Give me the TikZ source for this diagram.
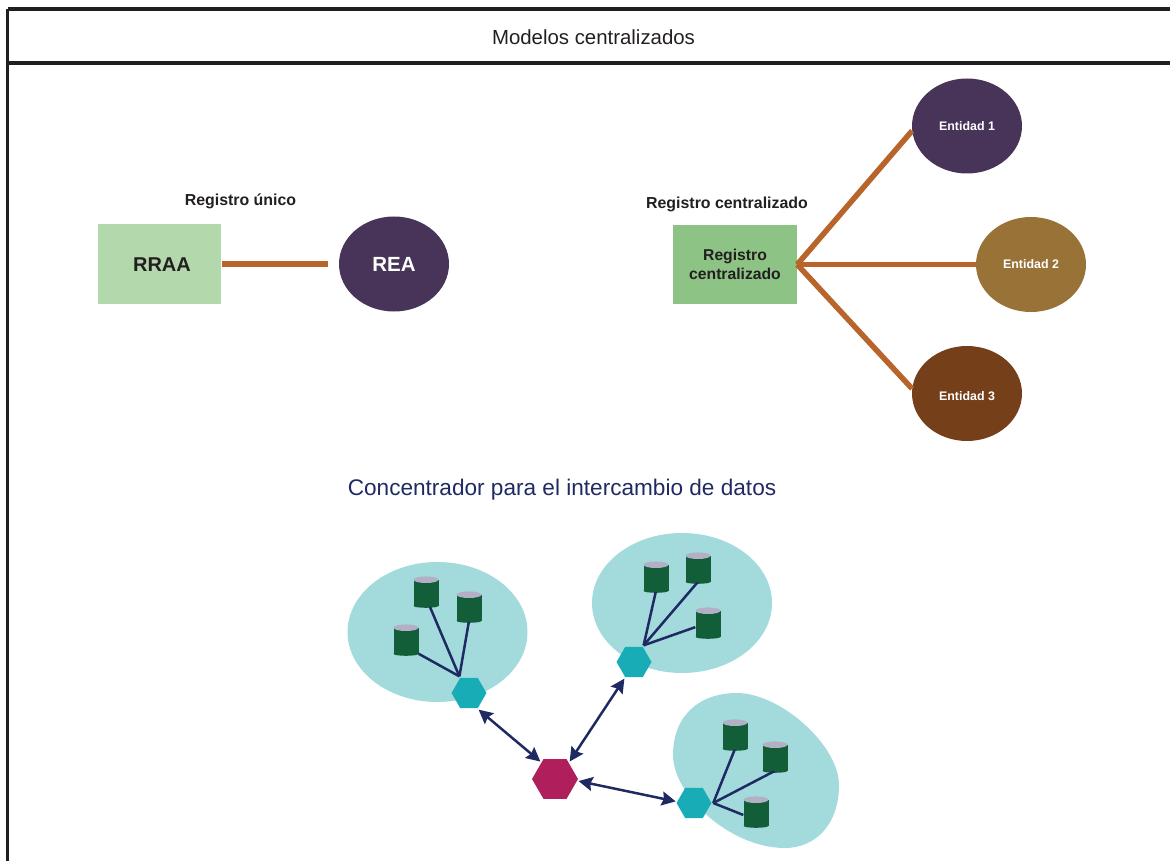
\documentclass[tikz,border=0pt]{standalone}
\usepackage{fontspec}
\setmainfont{Liberation Sans}
\usepackage{xcolor}
\usetikzlibrary{arrows.meta,shapes.geometric}

\definecolor{frameblack}{HTML}{231F20}
\definecolor{navyline}{HTML}{1F2A63}
\definecolor{brownline}{HTML}{B7652B}
\definecolor{lightgreen}{HTML}{B2D8AB}
\definecolor{midgreen}{HTML}{8DC384}
\definecolor{purpleent}{HTML}{483458}
\definecolor{ochreent}{HTML}{997238}
\definecolor{brownent}{HTML}{753F1A}
\definecolor{blobteal}{HTML}{A3DBDC}
\definecolor{hubteal}{HTML}{18ACB6}
\definecolor{hubred}{HTML}{AE1F5B}
\definecolor{dbgreen}{HTML}{115E38}
\definecolor{dbtop}{HTML}{B3B0C6}

\begin{document}
\begin{tikzpicture}[x=1pt,y=-1pt]
    \tikzset{box/.style = {shape=rectangle, minimum width=123pt, minimum height=79pt, inner sep=0pt, align=center}}
    \tikzset{entity/.style = {shape=ellipse, minimum width=110pt, minimum height=95pt, inner sep=0pt, text=white, font=\fontsize{12.4}{14}\selectfont\bfseries}}
    \tikzset{heading/.style = {font=\fontsize{15.9}{18}\selectfont\bfseries, text=frameblack}}
    \tikzset{blob/.style = {shape=ellipse, fill=blobteal, inner sep=0pt, minimum width=180pt, minimum height=140pt}}
    \tikzset{hub/.style = {shape=regular polygon, regular polygon sides=6, fill=hubteal, minimum size=35pt, inner sep=0pt, outer sep=1.5pt}}
    \tikzset{db/.style = {shape=rectangle, fill=dbgreen, minimum width=25pt, minimum height=25.7pt, inner sep=0pt}}
    \tikzset{bar/.style = {draw=brownline, line width=5.5pt}}
    \tikzset{spoke/.style = {draw=navyline, line width=2.5pt}}
    \tikzset{link/.style = {draw=navyline, line width=2.5pt, {Stealth[length=14pt,width=14pt,inset=2pt]}-{Stealth[length=14pt,width=14pt,inset=2pt]}}}

    \useasboundingbox (0,0) rectangle (1170,861);

    % frame
    \coordinate (tl) at (7.5,9.5);
    \coordinate (tr) at (1170,9.5);
    \coordinate (ml) at (7.5,63);
    \coordinate (mr) at (1170,63);
    \coordinate (bl) at (7.5,861);
    \draw [frameblack, line width=4pt] (tl) -- (tr);
    \draw [frameblack, line width=4pt] (ml) -- (mr);
    \draw [frameblack, line width=3pt] (tl) -- (bl);
    \node[font=\fontsize{20.4}{24}\selectfont, text=frameblack] (title) at (593.5,37) {Modelos centralizados};

    % top left
    \node[heading] (unico) at (240.5,201) {Registro único};
    \node[box, fill=lightgreen, font=\fontsize{20}{23}\selectfont\bfseries, text=frameblack] (rraa) at (159.5,264) {\hspace{5pt}\raisebox{-1pt}[\height][0pt]{RRAA}};
    \node[entity, fill=purpleent, font=\fontsize{20.5}{23}\selectfont\bfseries] (rea) at (394,264) {REA};
    \draw [bar, shorten <=1pt, shorten >=11pt] (rraa) -- (rea);

    % top right
    \node[heading] (centr) at (727,204) {Registro centralizado};
    \node[box, fill=midgreen, minimum width=124pt, font=\fontsize{15.7}{19}\selectfont\bfseries, text=frameblack] (reg) at (735,264.5) {Registro\\centralizado};
    \node[entity, fill=purpleent] (ent1) at (967,126) {Entidad 1};
    \node[entity, fill=ochreent] (ent2) at (1031,264.5) {Entidad 2};
    \node[entity, fill=brownent] (ent3) at (967,393.5) {\raisebox{-2.5pt}[\height][0pt]{Entidad 3}};
    \draw [bar] (reg.east) -- (ent1.185);
    \draw [bar] (reg.east) -- (ent2.west);
    \draw [bar] (reg.east) -- (ent3.175);

    % hub network
    \node[font=\fontsize{22.6}{27}\selectfont, text=navyline] (conc) at (562,490) {Concentrador para el intercambio de datos};
    \node[blob] (blobA) at (437.5,632) {};
    \node[blob] (blobB) at (682,603) {};
    \fill[blobteal] (737,693) .. controls (780,693) and (839,745) .. (839,785)
        .. controls (839,825) and (815,848) .. (785,848)
        .. controls (730,848) and (673,795) .. (673,755)
        .. controls (673,715) and (700,693) .. (737,693) -- cycle;

    % vertices
    \node[hub] (hubA) at (469,693) {};
    \node[hub] (hubB) at (634,662) {};
    \node[hub] (hubC) at (694,803) {};
    \node[hub, fill=hubred, minimum size=46pt] (centre) at (555,779) {};

    \foreach \name/\x/\y in {a1/426/592, a2/469/607, a3/406/640, b1/656/577, b2/698/568, b3/708/623, c1/735/735, c2/775/757, c3/756/812}{
        \node[db] (\name) at (\x,\y+0.75) {};
        \fill[dbgreen] (\name.south) ellipse (12.5 and 2);
        \fill[dbtop] (\name.north) ellipse (12.5 and 3.3);
    }

    % edges
    \draw [spoke, shorten <=1pt] (a1.-75) -- (hubA.120);
    \draw [spoke, shorten <=1pt] (a2.south) -- (hubA.120);
    \draw [spoke] (a3.south east) -- (hubA.120);
    \draw [spoke, shorten <=1pt] (b1.south) -- (hubB.60);
    \draw [spoke, shorten <=1pt] (b2.south) -- (hubB.60);
    \draw [spoke] (b3.-165) -- (hubB.60);
    \draw [spoke, shorten <=1pt] (c1.south) -- (hubC.0);
    \draw [spoke, shorten <=1pt] (c2.south) -- (hubC.0);
    \draw [spoke] (c3.-170) -- (hubC.0);
    \draw [link] (centre.130) -- (hubA.-60);
    \draw [link] (centre.50) -- (hubB.-120);
    \draw [link] (centre.-5) -- (hubC.175);
\end{tikzpicture}
\end{document}
